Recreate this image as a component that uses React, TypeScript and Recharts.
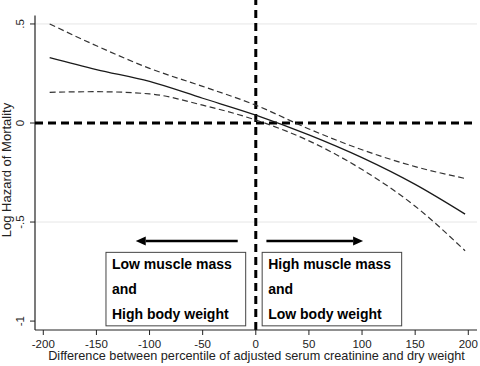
import {
  LineChart,
  Line,
  XAxis,
  YAxis,
  CartesianGrid,
  ReferenceLine,
  ReferenceArea,
} from "recharts";

// values
const diffs = [-194, -150, -100, -50, 0, 50, 100, 150, 197];
const logHazard = [0.33, 0.27, 0.21, 0.125, 0.04, -0.06, -0.175, -0.31, -0.46];
const upperCI = [0.5, 0.39, 0.276, 0.185, 0.09, -0.03, -0.135, -0.22, -0.28];
const lowerCI = [0.155, 0.158, 0.147, 0.09, 0.015, -0.09, -0.235, -0.42, -0.645];

const xTicks = [-200, -150, -100, -50, 0, 50, 100, 150, 200];
const yTicks = [-1, -0.5, 0, 0.5];
const yTickLabels = ["-1", "-.5", "0", ".5"];

const leftBoxLines = ["Low muscle mass", "and", "High body weight"];
const rightBoxLines = ["High muscle mass", "and", "Low body weight"];

const data = diffs.map((x, i) => ({
  x,
  est: logHazard[i],
  hi: upperCI[i],
  lo: lowerCI[i],
}));

const FONT = "'Liberation Sans', Arial, sans-serif";

function YTick(props: any) {
  const { x, y, payload } = props;
  const label = yTickLabels[yTicks.indexOf(payload.value)];
  return (
    <text
      x={x}
      y={y}
      transform={`rotate(-90 ${x} ${y})`}
      textAnchor="middle"
      fontSize={11.5}
      fontFamily={FONT}
      fill="#222"
    >
      {label}
    </text>
  );
}

function Arrow(props: any) {
  const { x1, y1, x2, y2 } = props;
  const dir = Math.sign(x2 - x1);
  const head = 10;
  return (
    <g>
      <line x1={x1} y1={y1} x2={x2 - dir * head} y2={y2} stroke="#000" strokeWidth={2.5} />
      <polygon
        points={`${x2},${y2} ${x2 - dir * head},${y2 - 4.5} ${x2 - dir * head},${y2 + 4.5}`}
        fill="#000"
      />
    </g>
  );
}

function TextBox(props: any) {
  const { x, y, width, height, lines } = props;
  return (
    <g>
      <rect x={x} y={y} width={width} height={height} fill="#fff" stroke="#444" strokeWidth={1} />
      {lines.map((t: string, i: number) => (
        <text
          key={i}
          x={x + 6}
          y={y + 17 + i * 25}
          fontSize={14}
          fontWeight="bold"
          fontFamily={FONT}
          fill="#000"
        >
          {t}
        </text>
      ))}
    </g>
  );
}

export default function App() {
  return (
    <div style={{ position: "absolute", left: 0, top: 0, background: "#fff" }}>
      <LineChart
        width={480}
        height={366}
        data={data}
        margin={{ top: 0, right: 3, left: 0, bottom: 0 }}
      >
        <CartesianGrid vertical={false} horizontalValues={[0.5, -0.5]} stroke="#e6e6e6" />
        <XAxis
          type="number"
          dataKey="x"
          domain={[-207.8, 208.2]}
          ticks={xTicks}
          interval={0}
          height={36}
          tickSize={5}
          tickMargin={4.5}
          stroke="#222"
          tick={{ fontSize: 11.5, fontFamily: FONT, fill: "#222" }}
          label={{
            value: "Difference between percentile of adjusted serum creatinine and dry weight",
            content: () => (
              <text x={256.5} y={360} textAnchor="middle" fontSize={12.7} fontFamily={FONT} fill="#222">
                Difference between percentile of adjusted serum creatinine and dry weight
              </text>
            ),
          }}
        />
        <YAxis
          type="number"
          domain={[-1.045, 0.621]}
          ticks={yTicks}
          interval={0}
          width={35}
          axisLine={false}
          tickSize={5}
          tickMargin={5.5}
          stroke="#222"
          tick={<YTick />}
          label={{
            value: "Log Hazard of Mortality",
            content: () => (
              <text
                x={11}
                y={170}
                transform="rotate(-90 11 170)"
                textAnchor="middle"
                fontSize={13}
                fontFamily={FONT}
                fill="#222"
              >
                Log Hazard of Mortality
              </text>
            ),
          }}
        />
        <ReferenceLine
          segment={[
            { x: -207.8, y: -1.045 },
            { x: -207.8, y: 0.543 },
          ]}
          stroke="#222"
          strokeWidth={1.2}
          ifOverflow="visible"
        />
        <ReferenceLine y={0} stroke="#000" strokeWidth={3} strokeDasharray="8 5" />
        <ReferenceLine x={0} stroke="#000" strokeWidth={3} strokeDasharray="8 5" />
        <Line
          dataKey="hi"
          type="monotone"
          stroke="#333"
          strokeWidth={1.2}
          strokeDasharray="6 3.5"
          dot={false}
          isAnimationActive={false}
        />
        <Line
          dataKey="est"
          type="monotone"
          stroke="#1a1a1a"
          strokeWidth={1.3}
          dot={false}
          isAnimationActive={false}
        />
        <Line
          dataKey="lo"
          type="monotone"
          stroke="#333"
          strokeWidth={1.2}
          strokeDasharray="6 3.5"
          dot={false}
          isAnimationActive={false}
        />
        <ReferenceLine
          segment={[
            { x: -17, y: -0.596 },
            { x: -113, y: -0.596 },
          ]}
          shape={<Arrow />}
        />
        <ReferenceLine
          segment={[
            { x: 10, y: -0.596 },
            { x: 101, y: -0.596 },
          ]}
          shape={<Arrow />}
        />
        <ReferenceArea
          x1={-141}
          x2={-9.5}
          y1={-1.024}
          y2={-0.653}
          shape={<TextBox lines={leftBoxLines} />}
        />
        <ReferenceArea
          x1={6}
          x2={137.3}
          y1={-1.024}
          y2={-0.653}
          shape={<TextBox lines={rightBoxLines} />}
        />
      </LineChart>
    </div>
  );
}
